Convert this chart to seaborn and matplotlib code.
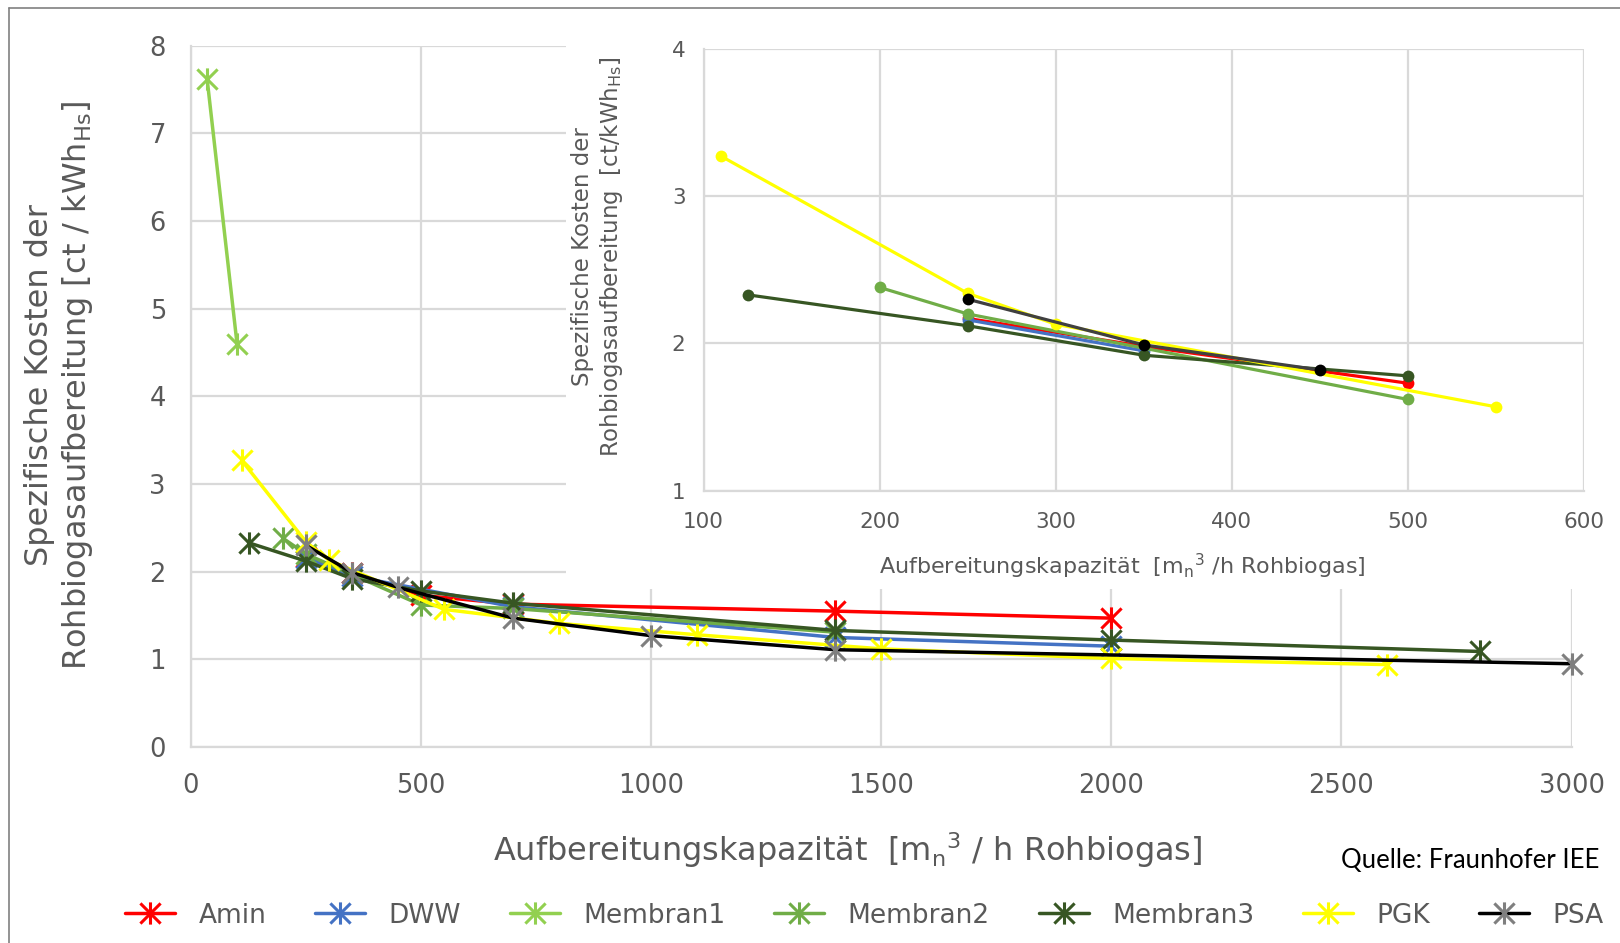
import matplotlib.pyplot as plt
from matplotlib.lines import Line2D
from matplotlib.path import Path
import pandas as pd
import seaborn as sns

# values: x = Aufbereitungskapazität, y = spez. Kosten
amin_x = [250, 350, 500, 700, 1400, 2000]
amin_y = [2.17, 1.98, 1.73, 1.63, 1.55, 1.47]
dww_x = [250, 350, 700, 1400, 2000]
dww_y = [2.16, 1.95, 1.60, 1.25, 1.15]
membran1_x = [35, 100]
membran1_y = [7.62, 4.60]
membran2_x = [200, 250, 500, 700, 1400]
membran2_y = [2.38, 2.20, 1.62, 1.58, 1.31]
membran3_x = [125, 250, 350, 500, 700, 1400, 2000, 2800]
membran3_y = [2.33, 2.12, 1.92, 1.78, 1.64, 1.33, 1.22, 1.09]
pgk_x = [110, 250, 300, 550, 800, 1100, 1500, 2000, 2600]
pgk_y = [3.27, 2.34, 2.13, 1.57, 1.41, 1.28, 1.12, 1.01, 0.94]
psa_x = [250, 350, 450, 700, 1000, 1400, 3000]
psa_y = [2.30, 1.99, 1.82, 1.47, 1.27, 1.11, 0.95]

series = ["Amin", "DWW", "Membran1", "Membran2", "Membran3", "PGK", "PSA"]
all_x = [amin_x, dww_x, membran1_x, membran2_x, membran3_x, pgk_x, psa_x]
all_y = [amin_y, dww_y, membran1_y, membran2_y, membran3_y, pgk_y, psa_y]

line_colors = ["#FF0000", "#4472C4", "#92D050", "#70AD47", "#375623", "#FFFF00", "#000000"]
star_colors = ["#FF0000", "#4472C4", "#92D050", "#70AD47", "#375623", "#FFFF00", "#7F7F7F"]
inset_line_colors = ["#FF0000", "#4472C4", "#92D050", "#70AD47", "#375623", "#FFFF00", "#404040"]
inset_dot_colors = ["#FF0000", "#4472C4", "#92D050", "#70AD47", "#375623", "#FFFF00", "#000000"]

rows = []
for name, xs, ys in zip(series, all_x, all_y):
    for x, y in zip(xs, ys):
        rows.append((name, x, y))
df = pd.DataFrame(rows, columns=["Verfahren", "Kapazitaet", "Kosten"])

# excel style star: an X with a vertical bar
star = Path([(-1, -1), (1, 1), (1, -1), (-1, 1), (0, -1.1), (0, 1.1)],
            [Path.MOVETO, Path.LINETO, Path.MOVETO, Path.LINETO, Path.MOVETO, Path.LINETO])

sns.set_theme(style="white")
plt.rcParams["font.family"] = ["DejaVu Sans"]
grey_text = "#595959"
grid_col = "#d9d9d9"

fig = plt.figure(figsize=(16.2, 9.43), dpi=100)
ax = fig.add_axes([0.1179, 0.2078, 0.8522, 0.7439])

for i, name in enumerate(series):
    sub = df[df["Verfahren"] == name]
    sns.lineplot(data=sub, x="Kapazitaet", y="Kosten", ax=ax, color=line_colors[i],
                 linewidth=2.5, marker=star, markersize=16, markeredgewidth=2.2,
                 markeredgecolor=star_colors[i], markerfacecolor=star_colors[i],
                 label=name, clip_on=False, zorder=3)

handles, labels = ax.get_legend_handles_labels()
if ax.get_legend() is not None:
    ax.get_legend().remove()

ax.set_xlim(0, 3000)
ax.set_ylim(0, 8)
ax.set_xticks(range(0, 3001, 500))
ax.set_yticks(range(0, 9))
ax.grid(True, color=grid_col, linewidth=1.6)
ax.tick_params(length=0, labelsize=18.5, labelcolor=grey_text)
ax.tick_params(axis="x", pad=19)
ax.tick_params(axis="y", pad=18)
for s in ["top", "right"]:
    ax.spines[s].set_visible(False)
for s in ["left", "bottom"]:
    ax.spines[s].set_color(grid_col)
    ax.spines[s].set_linewidth(1.6)

ax.set_xlabel("Aufbereitungskapazität  [m$_\\mathregular{n}$$^\\mathregular{3}$ / h Rohbiogas]",
              fontsize=23, color=grey_text, va="center")
ax.xaxis.set_label_coords(0.476, -0.147)
ax.set_ylabel("Spezifische Kosten der\nRohbiogasaufbereitung [ct / kWh$_\\mathregular{Hs}$]",
              fontsize=23, color=grey_text, va="center", ha="center")
ax.yaxis.set_label_coords(-0.095, 0.516)

# white box behind the inset
bg = fig.add_axes([0.3494, 0.3754, 0.6506, 0.6140])
bg.set_facecolor("white")
bg.set_xticks([])
bg.set_yticks([])
for s in bg.spines.values():
    s.set_visible(False)

# inset: zoom on the small plants
ins = fig.add_axes([0.4343, 0.4795, 0.5435, 0.4689])
small = df[(df["Kapazitaet"] <= 600) & (df["Verfahren"] != "Membran1")]
for i, name in enumerate(series):
    sub = small[small["Verfahren"] == name]
    if len(sub) == 0:
        continue
    sns.lineplot(data=sub, x="Kapazitaet", y="Kosten", ax=ins, color=inset_line_colors[i],
                 linewidth=2.3, marker="o", markersize=8.5, markeredgewidth=0,
                 markeredgecolor=inset_dot_colors[i], markerfacecolor=inset_dot_colors[i],
                 legend=False, zorder=3)

ins.set_xlim(100, 600)
ins.set_ylim(1, 4)
ins.set_xticks(range(100, 601, 100))
ins.set_yticks([1, 2, 3, 4])
ins.grid(True, color=grid_col, linewidth=1.6)
ins.tick_params(length=0, labelsize=15.5, labelcolor=grey_text, pad=13)
ins.tick_params(axis="x", pad=15)
for s in ["top", "right"]:
    ins.spines[s].set_visible(False)
for s in ["left", "bottom"]:
    ins.spines[s].set_color(grid_col)
    ins.spines[s].set_linewidth(1.6)
ins.set_xlabel("Aufbereitungskapazität  [m$_\\mathregular{n}$$^\\mathregular{3}$ /h Rohbiogas]",
               fontsize=16, color=grey_text, va="center")
ins.xaxis.set_label_coords(0.476, -0.172)
ins.set_ylabel("Spezifische Kosten der\nRohbiogasaufbereitung  [ct/kWh$_\\mathregular{Hs}$]",
               fontsize=16.5, color=grey_text, va="center", ha="center")
ins.yaxis.set_label_coords(-0.12, 0.529)

fig.legend(handles, labels, loc="center", bbox_to_anchor=(0.5335, 0.029), ncol=7,
           frameon=False, fontsize=19, labelcolor=grey_text, handlelength=1.9,
           handletextpad=0.88, columnspacing=1.85, borderpad=0.2)

fig.text(1599 / 1620, 0.088, "Quelle: Fraunhofer IEE", ha="right", va="center",
         fontsize=18.5, family=["Lato", "DejaVu Sans"], color="black")

# thin frame of the original picture
fig.add_artist(Line2D([9 / 1620, 9 / 1620], [0, 1 - 8 / 943], transform=fig.transFigure,
                      color="#808080", linewidth=1.2))
fig.add_artist(Line2D([9 / 1620, 1], [1 - 8 / 943, 1 - 8 / 943], transform=fig.transFigure,
                      color="#808080", linewidth=1.2))

fig.savefig("out.png", dpi=100)
